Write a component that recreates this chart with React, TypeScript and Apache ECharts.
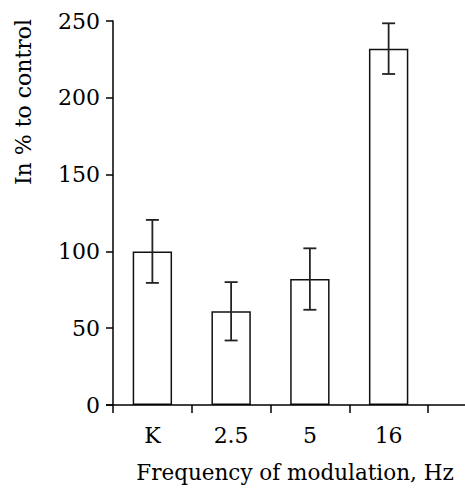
import React, { useEffect, useRef } from "react";
import * as echarts from "echarts";

const categories = ["K", "2.5", "5", "16"];
const means = [100, 61, 82, 232];
const errors = [20.5, 19, 20, 16.5];
const yTicks = { min: 0, max: 250, interval: 50 };
const yTitle = "In % to control";
const xTitle = "Frequency of modulation, Hz";

const FONT = "DejaVu Serif";

export default function App() {
  const ref = useRef<HTMLDivElement>(null);
  useEffect(() => {
    if (!ref.current) return;
    const chart = echarts.init(ref.current, undefined, { renderer: "svg" });
    const errData = categories.map((c, i) => [i, means[i], errors[i]]);
    chart.setOption({
      animation: false,
      backgroundColor: "#ffffff",
      textStyle: { fontFamily: FONT },
      grid: { left: 113, right: 37, top: 21, bottom: 84 },
      xAxis: {
        type: "category",
        data: categories,
        boundaryGap: true,
        axisLine: { show: false },
        axisTick: {
          show: true,
          alignWithLabel: false,
          interval: 0,
          length: 8,
          lineStyle: { color: "#000", width: 1.5 },
        },
        axisLabel: {
          interval: 0,
          margin: 19,
          color: "#000",
          fontFamily: FONT,
          fontSize: 22,
        },
      },
      yAxis: {
        type: "value",
        min: yTicks.min,
        max: yTicks.max,
        interval: yTicks.interval,
        splitLine: { show: false },
        axisLine: { show: true, lineStyle: { color: "#000", width: 1.5 } },
        axisTick: { show: true, length: 7, lineStyle: { color: "#000", width: 1.5 } },
        axisLabel: {
          margin: 13,
          color: "#000",
          fontFamily: FONT,
          fontSize: 22,
        },
      },
      graphic: [
        {
          type: "line",
          shape: { x1: 106, y1: 405, x2: 465, y2: 405 },
          style: { stroke: "#000", lineWidth: 1.5 },
          z: 100,
        },
        {
          type: "text",
          x: 23,
          y: 102,
          rotation: Math.PI / 2,
          style: {
            text: yTitle,
            fill: "#000",
            fontFamily: FONT,
            fontSize: 22,
            align: "center",
            verticalAlign: "middle",
          },
        },
        {
          type: "text",
          x: 295,
          y: 472,
          style: {
            text: xTitle,
            fill: "#000",
            fontFamily: FONT,
            fontSize: 21.5,
            align: "center",
            verticalAlign: "middle",
          },
        },
      ],
      series: [
        {
          type: "bar",
          data: means,
          barWidth: "50%",
          itemStyle: { color: "#ffffff", borderColor: "#111", borderWidth: 1.5 },
        },
        {
          type: "custom",
          data: errData,
          z: 10,
          renderItem: (params: any, api: any) => {
            const x = api.value(0);
            const m = api.value(1);
            const e = api.value(2);
            const top = api.coord([x, m + e]);
            const bot = api.coord([x, m - e]);
            const half = 6.5;
            const st = { stroke: "#222", lineWidth: 1.8 };
            return {
              type: "group",
              children: [
                { type: "line", shape: { x1: top[0], y1: top[1], x2: bot[0], y2: bot[1] }, style: st },
                { type: "line", shape: { x1: top[0] - half, y1: top[1], x2: top[0] + half, y2: top[1] }, style: st },
                { type: "line", shape: { x1: bot[0] - half, y1: bot[1], x2: bot[0] + half, y2: bot[1] }, style: st },
              ],
            };
          },
        },
      ],
    });
    return () => chart.dispose();
  }, []);
  return (
    <div
      ref={ref}
      style={{ position: "fixed", left: 0, top: 0, width: 465, height: 489 }}
    />
  );
}
